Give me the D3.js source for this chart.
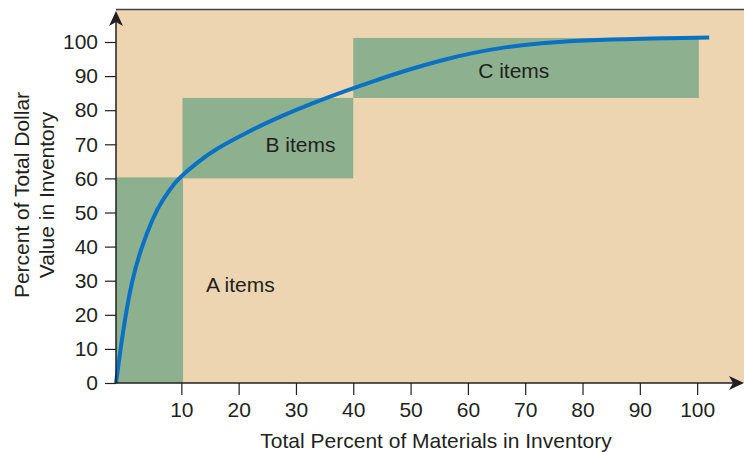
<!DOCTYPE html>
<html>
<head>
<meta charset="utf-8">
<script src="https://cdn.jsdelivr.net/npm/d3@7"></script>
<style>
  html, body { margin: 0; padding: 0; background: #fff; }
  svg { display: block; font-family: "Liberation Sans", Arial, sans-serif; }
</style>
</head>
<body>
<div id="chart"></div>
<script>
// ABC analysis curve
var xTicks = [10, 20, 30, 40, 50, 60, 70, 80, 90, 100];
var yTicks = [0, 10, 20, 30, 40, 50, 60, 70, 80, 90, 100];

var curveX = [-1.4, -0.64, 0.23, 1.28, 2.85, 5.06, 6.63, 8.95, 10.1, 13.3, 15.6, 21.5, 27.3, 33.1, 38.9, 43.5, 49.4, 55.2, 61, 66.8, 72.6, 80, 90, 102.1];
var curveY = [0, 9.7, 19.4, 29.3, 39, 48.6, 53.5, 58.9, 60.9, 65.3, 68.2, 73.6, 78.2, 82.2, 85.8, 88.5, 91.8, 94.6, 96.9, 98.6, 99.7, 100.5, 101, 101.3];

var bandNames = ["A items", "B items", "C items"];
var bandX0 = [-1.4, 10.2, 40];
var bandX1 = [10.3, 40, 100.3];
var bandY0 = [0, 60, 83.6];
var bandY1 = [60.3, 83.6, 101.2];
var labelX = [20.3, 30.8, 68];
var labelY = [28.7, 69.8, 91.5];

var width = 744, height = 452;
var mLeft = 116, mRight = 743, mTop = 10, mBottom = 383;
var fontSize = "21px";

var svg = d3.select("#chart").append("svg")
    .attr("width", width)
    .attr("height", height);

var x = d3.scaleLinear().domain([-1.4, 108]).range([mLeft, mRight]);
var y = d3.scaleLinear().domain([0, 100]).range([mBottom, 42]);

// background panel
svg.append("rect")
    .attr("x", mLeft)
    .attr("y", mTop)
    .attr("width", width - mLeft)
    .attr("height", mBottom - mTop)
    .style("fill", "#edd5b2");

svg.append("line")
    .attr("x1", mLeft).attr("x2", width)
    .attr("y1", mTop - 0.5).attr("y2", mTop - 0.5)
    .style("stroke", "#444")
    .style("stroke-width", 1.5);

// green bands
svg.selectAll(".band")
    .data(bandNames)
    .enter()
    .append("rect")
    .attr("class", "band")
    .attr("x", function (d, i) { return x(bandX0[i]); })
    .attr("width", function (d, i) { return x(bandX1[i]) - x(bandX0[i]); })
    .attr("y", function (d, i) { return y(bandY1[i]); })
    .attr("height", function (d, i) { return y(bandY0[i]) - y(bandY1[i]); })
    .style("fill", "#8db08e");

svg.selectAll(".band-label")
    .data(bandNames)
    .enter()
    .append("text")
    .attr("class", "band-label")
    .attr("x", function (d, i) { return x(labelX[i]); })
    .attr("y", function (d, i) { return y(labelY[i]); })
    .attr("dy", "0.35em")
    .style("text-anchor", "middle")
    .style("font-size", fontSize)
    .style("fill", "#231f20")
    .text(function (d) { return d; });

// curve
var line = d3.line()
    .x(function (d, i) { return x(curveX[i]); })
    .y(function (d, i) { return y(curveY[i]); })
    .curve(d3.curveBasis);

svg.append("path")
    .datum(curveX)
    .attr("d", line)
    .style("fill", "none")
    .style("stroke", "#0871c4")
    .style("stroke-width", 4);

// axes
var xAxis = svg.append("g")
    .attr("transform", "translate(0," + mBottom + ")")
    .call(d3.axisBottom(x).tickValues(xTicks).tickSize(12).tickPadding(7));

var yAxis = svg.append("g")
    .attr("transform", "translate(" + mLeft + ",0)")
    .call(d3.axisLeft(y).tickValues(yTicks).tickSize(11).tickPadding(7));

[xAxis, yAxis].forEach(function (g) {
    g.select(".domain").remove();
    g.selectAll("line").style("stroke", "#231f20").style("stroke-width", 1.2);
    g.selectAll("text")
        .style("font-size", fontSize)
        .style("fill", "#231f20")
        .style("font-family", "'Liberation Sans', Arial, sans-serif");
});

// axis lines with arrow heads
svg.append("line")
    .attr("x1", mLeft).attr("x2", width - 4)
    .attr("y1", mBottom).attr("y2", mBottom)
    .style("stroke", "#231f20").style("stroke-width", 1.5);
svg.append("line")
    .attr("x1", mLeft).attr("x2", mLeft)
    .attr("y1", mBottom).attr("y2", mTop + 4)
    .style("stroke", "#231f20").style("stroke-width", 1.5);

svg.append("path")
    .attr("d", "M" + mLeft + "," + (mTop + 1) + " L" + (mLeft + 7) + "," + (mTop + 16) +
        " L" + mLeft + "," + (mTop + 12) + " L" + (mLeft - 7) + "," + (mTop + 16) + " Z")
    .style("fill", "#231f20");
svg.append("path")
    .attr("d", "M" + (width) + "," + mBottom + " L" + (width - 15) + "," + (mBottom - 7) +
        " L" + (width - 11) + "," + mBottom + " L" + (width - 15) + "," + (mBottom + 7) + " Z")
    .style("fill", "#231f20");

// titles
svg.append("text")
    .attr("x", 436)
    .attr("y", 448)
    .style("text-anchor", "middle")
    .style("font-size", fontSize)
    .style("fill", "#231f20")
    .text("Total Percent of Materials in Inventory");

var yTitle = svg.append("text")
    .attr("transform", "translate(29,195) rotate(-90)")
    .style("text-anchor", "middle")
    .style("font-size", fontSize)
    .style("fill", "#231f20");
yTitle.append("tspan").attr("x", 0).attr("dy", 0).text("Percent of Total Dollar");
yTitle.append("tspan").attr("x", 0).attr("dy", 25).text("Value in Inventory");
</script>
</body>
</html>
